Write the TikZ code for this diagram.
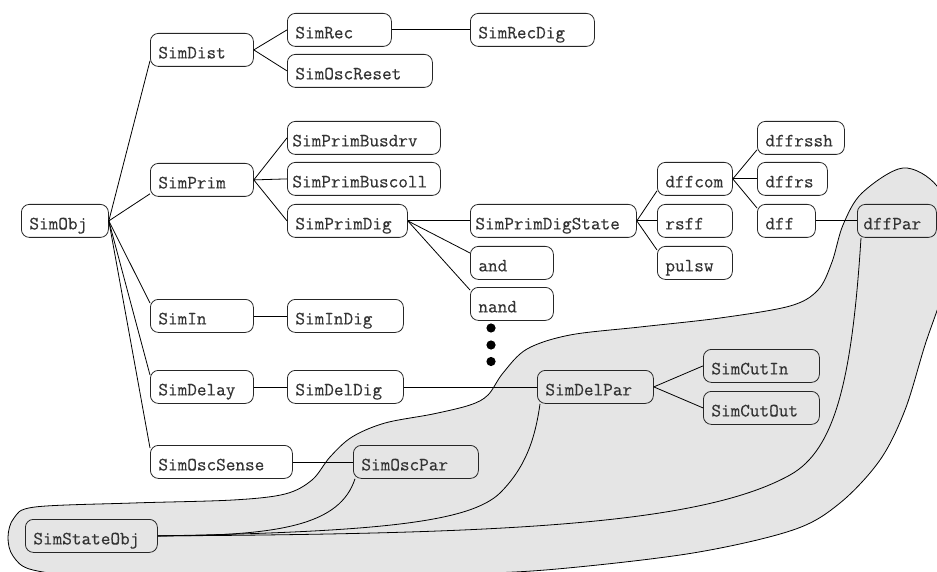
\documentclass[tikz,border=0pt]{standalone}
\usepackage{fontspec}
\newfontfamily\dfont{Latin Modern Mono}[FakeBold=0.4]
\newcommand\bx[6][8]{%
  \pgfmathsetmacro\bxw{#5-#3-2*#1}%
  \node[box, inner xsep=#1pt, text width=\bxw pt, anchor=north west] (#2) at (#3,#4) {#6};}
\begin{document}
\begin{tikzpicture}[x=1pt,y=-1pt,
  box/.style={draw=black!85, line width=0.8pt, rounded corners=8pt, align=left,
    inner ysep=0pt, text height=25pt, text depth=8pt, text=black!80,
    font=\dfont\fontsize{18.7}{18.7}\selectfont},
  con/.style={draw=black, line width=0.8pt},
  blob/.style={draw=black, fill=black!10, line width=0.8pt}]
\useasboundingbox (0,0) rectangle (937,572);
\begin{scope}
\clip (0,0) rectangle (937,572);
\path[blob] plot[smooth cycle, tension=0.55] coordinates {
 (8,537) (14,518) (35,507) (133,503) (233,500) (285,494) (312,480) (330,457)
 (352,437) (385,423) (433,414) (470,405) (488,395) (503,373) (527,349) (570,335)
 (640,327) (720,318) (790,306) (818,290) (832,262) (843,225) (862,193) (903,168)
 (937,186) (953,230) (945,285) (925,345) (905,410) (880,460) (840,503) (793,530)
 (693,553) (557,569) (460,574) (300,577) (100,576) (33,570) (13,556)};
\end{scope}
% nodes
\bx{SimObj}{21}{204}{108}{SimObj}
\bx{SimDist}{150}{33}{253}{SimDist}
\bx{SimRec}{287}{13}{391}{SimRec}
\bx{SimRecDig}{470}{13}{594}{SimRecDig}
\bx{SimOscReset}{287}{54}{432}{SimOscReset}
\bx{SimPrim}{150}{163}{253}{SimPrim}
\bx[5]{SimPrimBusdrv}{287}{121}{440}{SimPrimBusdrv}
\bx[5]{SimPrimBuscoll}{287}{162}{440}{SimPrimBuscoll}
\bx{SimPrimDig}{287}{204}{407}{SimPrimDig}
\bx[5]{SimPrimDigState}{470}{204}{636}{SimPrimDigState}
\bx{and}{470}{246}{553}{and}
\bx{nand}{470}{287}{553}{nand}
\bx{dffcom}{657}{162}{732}{dffcom}
\bx{rsff}{657}{204}{732}{rsff}
\bx{pulsw}{657}{246}{732}{pulsw}
\bx{dffrssh}{757}{121}{844}{dffrssh}
\bx{dffrs}{757}{162}{827}{dffrs}
\bx{dff}{757}{204}{815}{dff}
\bx[6]{dffPar}{857}{204}{936}{dffPar}
\bx{SimIn}{150}{299}{253}{SimIn}
\bx{SimInDig}{287}{299}{403}{SimInDig}
\bx{SimDelay}{150}{370}{253}{SimDelay}
\bx{SimDelDig}{287}{370}{403}{SimDelDig}
\bx{SimDelPar}{537}{370}{653}{SimDelPar}
\bx{SimCutIn}{703}{349}{819}{SimCutIn}
\bx{SimCutOut}{703}{391}{819}{SimCutOut}
\bx{SimOscSense}{150}{445}{292}{SimOscSense}
\bx{SimOscPar}{353}{445}{478}{SimOscPar}
\bx{SimStateObj}{25}{519}{157}{SimStateObj}
% dots
\fill (491,328) circle (4.6pt) (491,345) circle (4.6pt) (491,361.5) circle (4.6pt);
% connectors
\draw[con] (SimObj.east) -- ([yshift=6pt]SimDist.south west);
\draw[con] (SimObj.east) -- ([yshift=3pt]SimPrim.south west);
\draw[con] (SimObj.east) -- ([yshift=-4pt]SimIn.north west);
\draw[con] (SimObj.east) -- ([yshift=-5pt]SimDelay.north west);
\draw[con] (SimObj.east) -- ([yshift=-3pt]SimOscSense.north west);
\draw[con] (SimDist.east) -- (SimRec.west);
\draw[con] (SimDist.east) -- (SimOscReset.west);
\draw[con] (SimRec.east) -- (SimRecDig.west);
\draw[con] (SimPrim.east) -- (SimPrimBusdrv.west);
\draw[con] (SimPrim.east) -- (SimPrimBuscoll.west);
\draw[con] (SimPrim.east) -- (SimPrimDig.west);
\draw[con] (SimPrimDig.east) -- (SimPrimDigState.west);
\draw[con] (SimPrimDig.east) -- ([yshift=-7pt]and.north west);
\draw[con] (SimPrimDig.east) -- ([yshift=-3pt]nand.north west);
\draw[con] (SimPrimDigState.east) -- ([yshift=5pt]dffcom.south west);
\draw[con] (SimPrimDigState.east) -- (rsff.west);
\draw[con] (SimPrimDigState.east) -- ([yshift=-4pt]pulsw.north west);
\draw[con] (dffcom.east) -- ([yshift=5pt]dffrssh.south west);
\draw[con] (dffcom.east) -- (dffrs.west);
\draw[con] (dffcom.east) -- ([yshift=-4pt]dff.north west);
\draw[con] (dff.east) -- (dffPar.west);
\draw[con] (SimIn.east) -- (SimInDig.west);
\draw[con] (SimDelay.east) -- (SimDelDig.west);
\draw[con] (SimDelDig.east) -- (SimDelPar.west);
\draw[con] (SimDelPar.east) -- (SimCutIn.west);
\draw[con] (SimDelPar.east) -- (SimCutOut.west);
\draw[con] (SimOscSense.east) -- (SimOscPar.west);
\draw[con] (SimStateObj.east) .. controls (280,536) and (340,525) .. ([xshift=2pt]SimOscPar.south west);
\draw[con] (SimStateObj.east) .. controls (380,532) and (470,522) .. (500,493)
  .. controls (525,468) and (535,440) .. ([xshift=3pt]SimDelPar.south west);
\draw[con] (SimStateObj.east) .. controls (500,534) and (700,525) .. (790,475)
  .. controls (835,450) and (852,380) .. ([xshift=4pt]dffPar.south west);
\end{tikzpicture}
\end{document}
